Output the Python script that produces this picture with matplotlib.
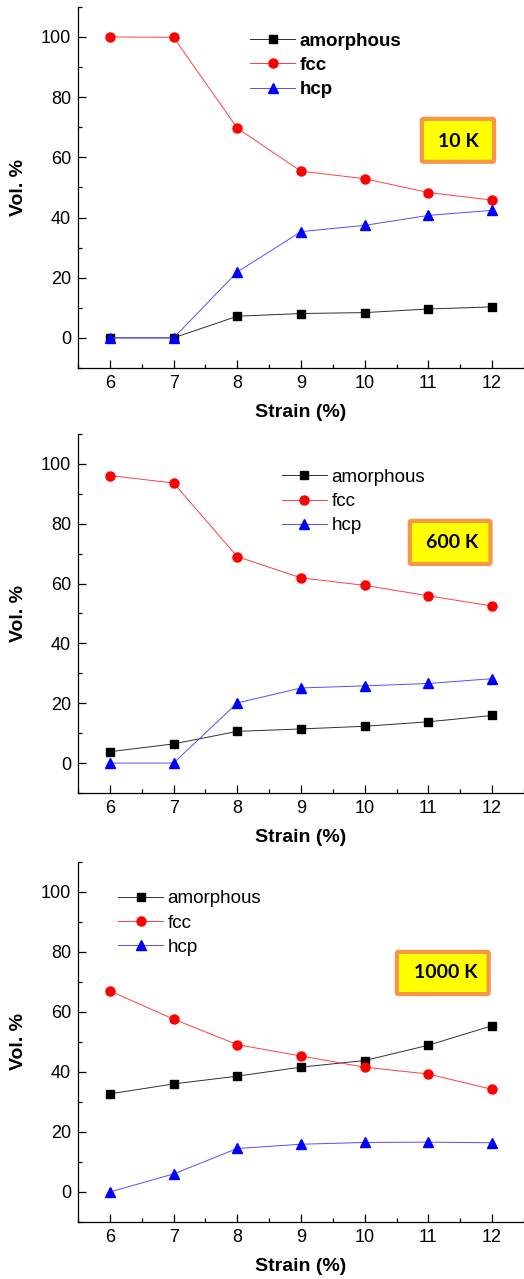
import matplotlib.pyplot as plt
import numpy as np
from matplotlib.patches import FancyBboxPatch
from matplotlib.ticker import MultipleLocator

plt.rcParams['font.family'] = ['Liberation Sans', 'DejaVu Sans']

strain = [6, 7, 8, 9, 10, 11, 12]
temps = ['10 K', '600 K', '1000 K']

amorphous_10 = [0, 0, 7.2, 8.1, 8.4, 9.6, 10.3]
fcc_10 = [100, 99.9, 69.7, 55.4, 52.9, 48.3, 45.8]
hcp_10 = [0, 0, 21.9, 35.3, 37.4, 40.7, 42.4]

amorphous_600 = [3.8, 6.4, 10.6, 11.4, 12.3, 13.8, 15.9]
fcc_600 = [96.1, 93.6, 69.0, 61.9, 59.4, 55.9, 52.5]
hcp_600 = [0, 0, 20.1, 25.1, 25.8, 26.6, 28.2]

amorphous_1000 = [32.7, 36.0, 38.6, 41.6, 43.8, 48.9, 55.4]
fcc_1000 = [67.0, 57.6, 49.1, 45.3, 41.6, 39.3, 34.2]
hcp_1000 = [0, 6.0, 14.5, 15.9, 16.5, 16.6, 16.4]

panels = [
    (amorphous_10, fcc_10, hcp_10),
    (amorphous_600, fcc_600, hcp_600),
    (amorphous_1000, fcc_1000, hcp_1000),
]

# layout (figure fractions) and decorations per panel
ax_rects = [[0.1489, 0.7123, 0.851, 0.2823],
            [0.1489, 0.3800, 0.851, 0.2807],
            [0.1489, 0.0446, 0.851, 0.2815]]
legend_anchor = [(0.386, 0.929), (0.457, 0.903), (0.0897, 0.921)]
legend_bold = [True, False, False]
box_rect = [(0.771, 0.571, 0.162, 0.119),
            (0.744, 0.638, 0.181, 0.120),
            (0.715, 0.633, 0.206, 0.117)]
box_text_pos = [(0.854, 0.626), (0.839, 0.699), (0.825, 0.692)]

fig = plt.figure(figsize=(5.24, 12.79), dpi=100)

for i, (amo, fcc, hcp) in enumerate(panels):
    ax = fig.add_axes(ax_rects[i])
    ax.plot(strain, amo, color='#303030', lw=0.7, marker='s', ms=5.5,
            mfc='black', mec='black', label='amorphous')
    ax.plot(strain, fcc, color='#ff4040', lw=0.7, marker='o', ms=6.5,
            mfc='red', mec='red', label='fcc')
    ax.plot(strain, hcp, color='#5050ff', lw=0.7, marker='^', ms=6.5,
            mfc='blue', mec='blue', label='hcp')

    ax.set_xlim(5.5, 12.5)
    ax.set_ylim(-10, 110)
    ax.xaxis.set_major_locator(MultipleLocator(1))
    ax.xaxis.set_minor_locator(MultipleLocator(0.5))
    ax.yaxis.set_major_locator(MultipleLocator(20))
    ax.yaxis.set_minor_locator(MultipleLocator(10))
    ax.tick_params(which='both', direction='in', labelsize=13, width=0.9)
    ax.tick_params(which='major', length=6, pad=5)
    ax.tick_params(which='minor', length=3)
    for s in ['top', 'right']:
        ax.spines[s].set_visible(False)
    for s in ['left', 'bottom']:
        ax.spines[s].set_linewidth(0.9)

    ax.set_xlabel('Strain (%)', fontsize=14, fontweight='bold', labelpad=9)
    ax.set_ylabel('Vol. %', fontsize=14, fontweight='bold', labelpad=10)

    leg = ax.legend(loc='upper left', bbox_to_anchor=legend_anchor[i],
                    frameon=False, borderpad=0, borderaxespad=0,
                    handlelength=2.4, handletextpad=0.25, labelspacing=0.38,
                    prop={'size': 13.5, 'weight': 'bold' if legend_bold[i] else 'normal'})

    bx, by, bw, bh = box_rect[i]
    ax.add_patch(FancyBboxPatch((bx, by), bw, bh, transform=ax.transAxes,
                                boxstyle='round,pad=0,rounding_size=0.004',
                                fc='#ffff00', ec='#f79646', lw=3, clip_on=False))
    tx, ty = box_text_pos[i]
    ax.text(tx, ty, temps[i], transform=ax.transAxes, ha='center', va='center',
            fontsize=14, fontweight='bold', family=['Lato', 'DejaVu Sans'])

fig.savefig('out.png', dpi=100)
